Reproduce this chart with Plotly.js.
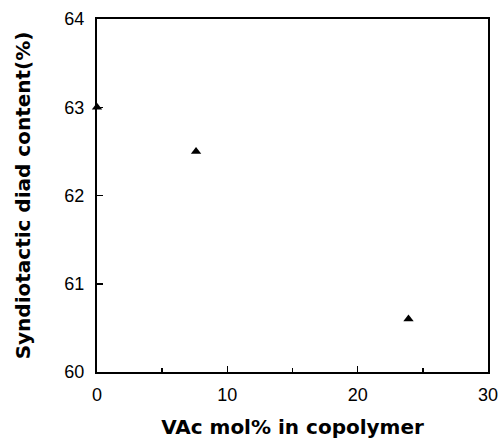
<!DOCTYPE html>
<html>
<head>
<meta charset="utf-8">
<script src="https://cdn.plot.ly/plotly-3.0.1.min.js"></script>
<style>html,body{margin:0;padding:0;background:#fff;}#chart{width:502px;height:441px;}</style>
</head>
<body>
<div id="chart"></div>
<script>
var vacMolPct = [0, 7.6, 23.9];
var syndiotacticDiad = [63.0, 62.5, 60.6];
var xTickVals = [0, 10, 20, 30];
var yTickVals = [60, 61, 62, 63, 64];

var trace = {
  x: vacMolPct,
  y: syndiotacticDiad,
  mode: 'markers',
  type: 'scatter',
  marker: {symbol: 'triangle-up', size: 9, color: '#000'},
  cliponaxis: false,
  showlegend: false
};

var titleFont = {family: 'DejaVu Sans, sans-serif', size: 20, color: '#000', weight: 'bold'};

var layout = {
  width: 502, height: 441,
  margin: {l: 97, r: 14, t: 19, b: 69},
  paper_bgcolor: '#fff', plot_bgcolor: '#fff',
  font: {family: 'Liberation Sans, Arial, sans-serif', color: '#000', size: 16},
  xaxis: {
    range: [0, 30], tickvals: xTickVals, ticktext: xTickVals.map(String),
    ticks: 'inside', ticklen: 6, tickwidth: 1.5, tickcolor: '#000',
    minor: {tickvals: [5, 15, 25], ticks: 'inside', ticklen: 4, tickwidth: 1.5, tickcolor: '#000'},
    showline: true, linewidth: 2, linecolor: '#000', mirror: true,
    showgrid: false, zeroline: false, automargin: false,
    tickfont: {size: 18}, ticklabelstandoff: 5,
    title: {text: 'VAc mol% in copolymer', font: titleFont, standoff: 16}
  },
  yaxis: {
    range: [60, 64], tickvals: yTickVals, ticktext: yTickVals.map(String),
    ticks: 'inside', ticklen: 6, tickwidth: 1.5, tickcolor: '#000',
    showline: true, linewidth: 2, linecolor: '#000', mirror: true,
    showgrid: false, zeroline: false, automargin: false,
    tickfont: {size: 18}, ticklabelstandoff: 7,
    title: {text: 'Syndiotactic diad content(%)', font: titleFont, standoff: 28}
  }
};

Plotly.newPlot('chart', [trace], layout, {displayModeBar: false, staticPlot: true});
</script>
</body>
</html>
